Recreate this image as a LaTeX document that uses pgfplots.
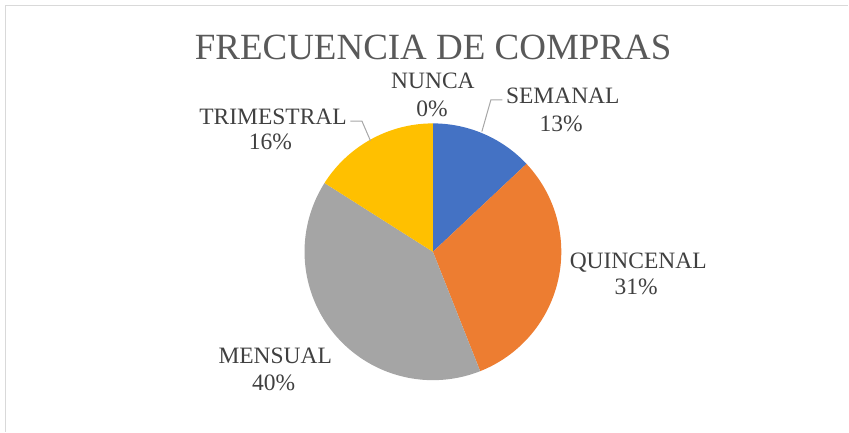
\documentclass[border=0pt]{standalone}
\usepackage{fontspec}
\setmainfont{Liberation Serif}
\usepackage{pgfplots}
\pgfplotsset{compat=1.18}
\definecolor{cSem}{HTML}{4472C4}
\definecolor{cQui}{HTML}{ED7D31}
\definecolor{cMen}{HTML}{A5A5A5}
\definecolor{cTri}{HTML}{FFC000}
\definecolor{cTitle}{HTML}{595959}
\definecolor{cLab}{HTML}{404040}
\definecolor{cFrame}{HTML}{D9D9D9}
\definecolor{cLead}{HTML}{A6A6A6}
% shares (percent), clockwise from the top
\def\pSem{13}
\def\pQui{31}
\def\pMen{40}
\def\pTri{16}
\def\pNun{0}
\def\cx{433.3}
\def\cy{252}
\def\R{128.5}
\begin{document}
\begin{tikzpicture}
\begin{axis}[
  scale only axis, width=849pt, height=432pt,
  xmin=0, xmax=849, ymin=0, ymax=432, y dir=reverse,
  hide axis, clip=false,
]
\addplot[draw=none] coordinates {(0,0) (849,432)};
% frame
\addplot[cFrame, line width=1.5pt] coordinates {(5.5,432) (5.5,5.5) (849,5.5)};
% wedges
\pgfmathsetmacro{\aA}{90}
\pgfmathsetmacro{\aB}{90-3.6*\pSem}
\pgfmathsetmacro{\aC}{\aB-3.6*\pQui}
\pgfmathsetmacro{\aD}{\aC-3.6*\pMen}
\pgfmathsetmacro{\aE}{\aD-3.6*\pTri}
\addplot[fill=cSem, draw=none, domain=\aB:\aA, samples=40, variable=\t]
  ({\cx+\R*cos(\t)}, {\cy-\R*sin(\t)}) -- (axis cs:\cx,\cy) -- cycle;
\addplot[fill=cQui, draw=none, domain=\aC:\aB, samples=80, variable=\t]
  ({\cx+\R*cos(\t)}, {\cy-\R*sin(\t)}) -- (axis cs:\cx,\cy) -- cycle;
\addplot[fill=cMen, draw=none, domain=\aD:\aC, samples=100, variable=\t]
  ({\cx+\R*cos(\t)}, {\cy-\R*sin(\t)}) -- (axis cs:\cx,\cy) -- cycle;
\addplot[fill=cTri, draw=none, domain=\aE:\aD, samples=50, variable=\t]
  ({\cx+\R*cos(\t)}, {\cy-\R*sin(\t)}) -- (axis cs:\cx,\cy) -- cycle;
% leader lines
\addplot[cLead, line width=1pt] coordinates {(350.7,121.3) (362.3,121.3) (370.7,140.7)};
\addplot[cLead, line width=1pt] coordinates {(502.7,100) (491.3,100) (482.3,131.7)};
% title
\node[anchor=base, text=cTitle, font=\fontsize{37}{40}\selectfont] at (axis cs:433.5,60) {FRECUENCIA DE COMPRAS};
% labels
\tikzset{lab/.style={anchor=base, text=cLab, font=\fontsize{23.5}{27}\selectfont, inner sep=0pt}}
\node[lab] at (axis cs:563.3,103.3) {SEMANAL};
\node[lab] at (axis cs:561.7,131.7) {\pSem\%};
\node[lab] at (axis cs:433.3,88.3) {NUNCA};
\node[lab] at (axis cs:432.3,116.7) {\pNun\%};
\node[lab] at (axis cs:638.8,268.3) {QUINCENAL};
\node[lab] at (axis cs:636.7,294.3) {\pQui\%};
\node[lab] at (axis cs:275.5,364) {MENSUAL};
\node[lab] at (axis cs:274,390.7) {\pMen\%};
\node[lab] at (axis cs:273.3,125) {TRIMESTRAL};
\node[lab] at (axis cs:270.7,150) {\pTri\%};
\end{axis}
\end{tikzpicture}
\end{document}
